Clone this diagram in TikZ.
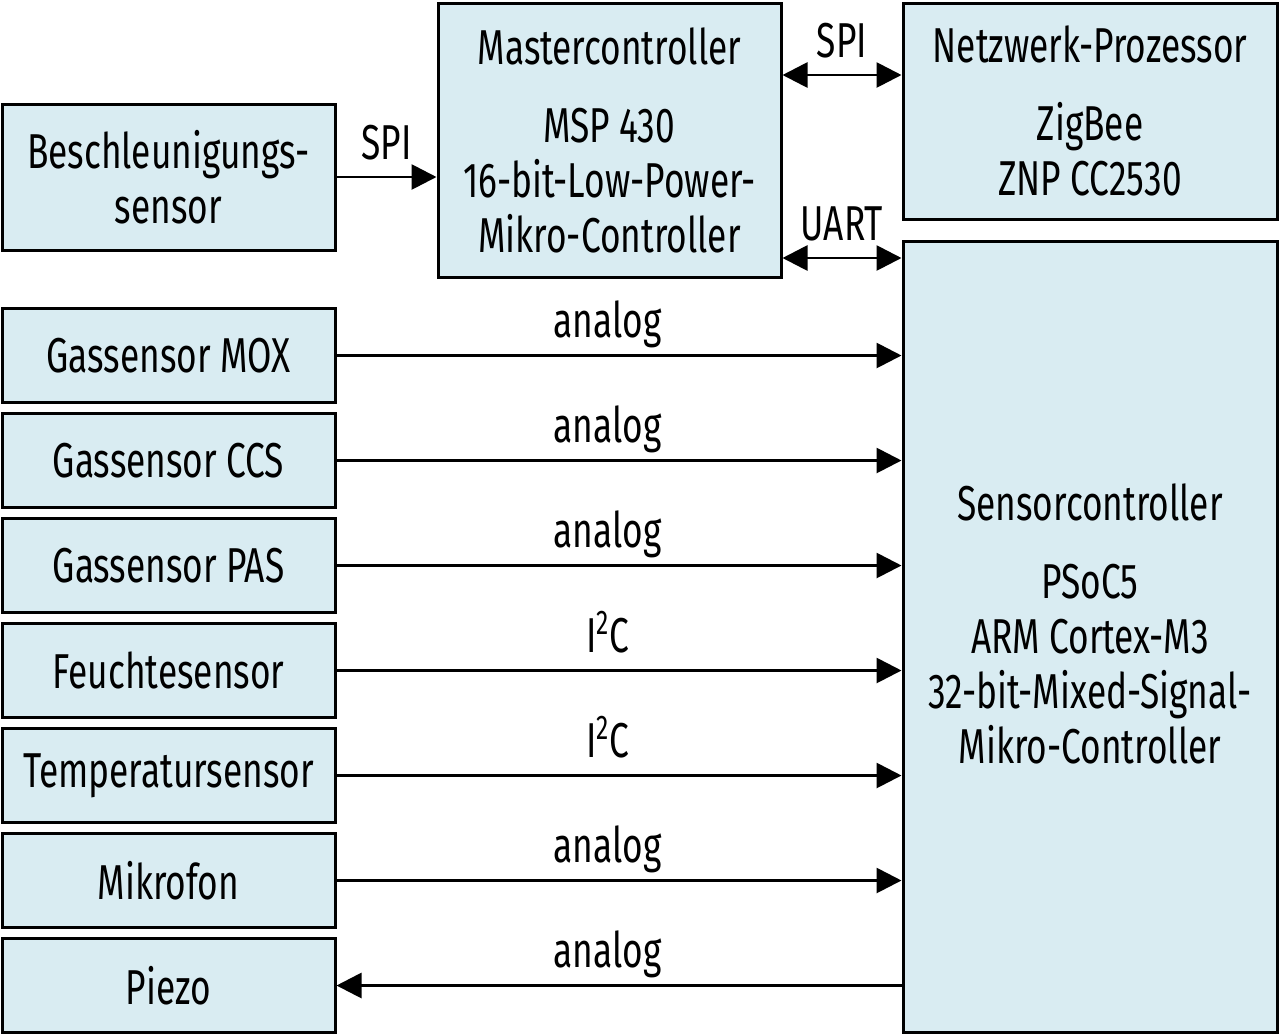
\documentclass[tikz,border=0pt]{standalone}
\usepackage{fontspec}
\setmainfont{Fira Sans}[FakeStretch=0.72]
\usetikzlibrary{arrows.meta,positioning,calc}
\definecolor{boxblue}{RGB}{217,236,242}
\tikzset{
  box/.style={draw, fill=boxblue, line width=1.5pt, inner sep=0pt, align=center,
    font=\fontsize{24.5}{27.5}\selectfont},
  sensorbox/.style={box, minimum width=166.5pt, minimum height=47pt},
  lbl/.style={anchor=base, yshift=9pt, inner sep=0pt, font=\fontsize{24.5}{27.5}\selectfont},
  conn/.style={line width=1.4pt, -{Triangle[length=12.5pt,width=12.5pt]}},
  biconn/.style={line width=1.4pt, {Triangle[length=12.5pt,width=12.5pt]}-{Triangle[length=12.5pt,width=12.5pt]}}
}
\begin{document}
\begin{tikzpicture}[x=0.5pt,y=-0.5pt]
\useasboundingbox (0,0) rectangle (1280,1035);
\node[box, minimum width=166.5pt, minimum height=73pt] (beschl) at (168.5,177) {Beschleunigungs-\\sensor};
\node[box, minimum width=171.5pt, minimum height=137pt] (master) at (609.5,140)
  {Mastercontroller\\[11.5pt] MSP 430\\16-bit-Low-Power-\\Mikro-Controller};
\node[box, minimum width=187pt, minimum height=108pt] (netz) at (1090,111)
  {Netzwerk-Prozessor\\[11.5pt] ZigBee\\ZNP CC2530};
\node[box, minimum width=187pt, minimum height=395.5pt] (sensor) at (1090,636.5)
  {Sensorcontroller\\[11.5pt] PSoC5\\ARM Cortex-M3\\32-bit-Mixed-Signal-\\Mikro-Controller\\[-14.5pt]~};
\node[sensorbox] (mox) at (168.5,355.5) {Gassensor MOX};
\node[sensorbox] (ccs) at (168.5,460.5) {Gassensor CCS};
\node[sensorbox] (pas) at (168.5,565.5) {Gassensor PAS};
\node[sensorbox] (feuchte) at (168.5,670.5) {Feuchtesensor};
\node[sensorbox] (temp) at (168.5,775.5) {Temperatursensor};
\node[sensorbox] (mikro) at (168.5,880.5) {Mikrofon};
\node[sensorbox] (piezo) at (168.5,985.5) {Piezo};

\draw[conn] (beschl.east) -- (beschl.east -| master.west) node[lbl, midway] {SPI};
\draw[biconn] ([yshift=32.5pt]master.east) -- ([yshift=32.5pt]master.east -| netz.west) node[lbl, midway] {SPI};
\draw[biconn] ([yshift=-59pt]master.east) -- ([yshift=-59pt]master.east -| sensor.west) node[lbl, midway] {UART};
\foreach \s/\t in {mox/analog, ccs/analog, pas/analog, feuchte/I\textsuperscript{2}C, temp/I\textsuperscript{2}C, mikro/analog}
  \draw[conn] (\s.east) -- (\s.east -| sensor.west) node[lbl, pos=0.48] {\t};
\draw[conn] (piezo.east -| sensor.west) -- (piezo.east) node[lbl, pos=0.52] {analog};
\end{tikzpicture}
\end{document}
